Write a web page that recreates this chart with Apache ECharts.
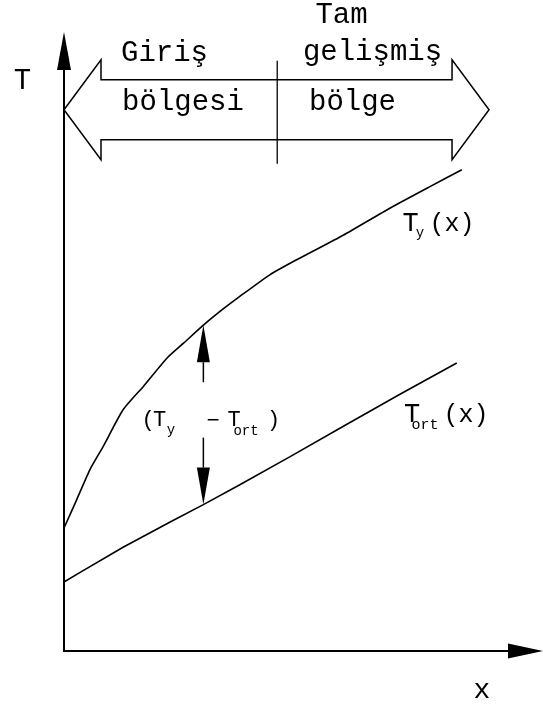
<!DOCTYPE html>
<html>
<head>
<meta charset="utf-8">
<script src="https://cdn.jsdelivr.net/npm/echarts@6/dist/echarts.min.js"></script>
<style>
  html, body { margin: 0; padding: 0; background: #fff; }
  #chart { width: 543px; height: 710px; }
</style>
</head>
<body>
<div id="chart"></div>
<script>
// Wall temperature T_y(x) along the duct
const tyX = [0, 0.24, 0.56, 0.85, 1.28, 1.72, 2.23, 2.59, 3.02, 3.38, 3.81, 4.46, 5.04, 6.05, 7.06, 7.93, 8.62];
const tyY = [2.05, 2.46, 3.02, 3.41, 4.02, 4.41, 4.88, 5.13, 5.43, 5.66, 5.91, 6.27, 6.52, 6.93, 7.38, 7.74, 8.02];

// Mean (bulk) temperature T_ort(x)
const tortX = [0, 0.35, 1.28, 2.30, 3.02, 3.81, 4.90, 6.13, 7.28, 8.51];
const tortY = [1.15, 1.31, 1.73, 2.15, 2.44, 2.77, 3.24, 3.78, 4.28, 4.80];

// Temperature difference marker: [x, T_y, T_ort]
const diffMarker = [[3.02, 5.43, 2.44]];

// Region band: left edge, boundary between regions, right edge, and its level
const zoneEdges = [0, 4.62, 9.21];
const zoneLevel = 9.02;
const zoneNames = ['Giriş', 'bölgesi', 'Tam', 'gelişmiş', 'bölge'];

const INK = '#000';
const MONO = 'Liberation Mono';

const chart = echarts.init(document.getElementById('chart'), null, { renderer: 'canvas' });

function pairs(xs, ys) { return xs.map((x, i) => [x, ys[i]]); }

function txt(text, x, y, size) {
  return {
    type: 'text', x: x, y: y, silent: true,
    style: { text: text, fill: INK, font: size + 'px "' + MONO + '"', align: 'center', verticalAlign: 'middle' }
  };
}

const option = {
  backgroundColor: '#fff',
  animation: false,
  grid: { left: 64, right: 17.5, top: 51, bottom: 59, containLabel: false },
  xAxis: {
    type: 'value', min: 0, max: 10,
    axisLine: { show: true, onZero: false, symbol: ['none', 'triangle'], symbolSize: [15, 35],
      lineStyle: { color: INK, width: 2 } },
    axisTick: { show: false }, axisLabel: { show: false }, splitLine: { show: false }
  },
  yAxis: {
    type: 'value', min: 0, max: 10,
    axisLine: { show: true, onZero: false, symbol: ['none', 'triangle'], symbolSize: [14, 38],
      lineStyle: { color: INK, width: 2 } },
    axisTick: { show: false }, axisLabel: { show: false }, splitLine: { show: false }
  },
  series: [
    {
      name: 'T_y', type: 'line', data: pairs(tyX, tyY), showSymbol: false, smooth: 0.2,
      lineStyle: { color: INK, width: 1.6 }, silent: true
    },
    {
      name: 'T_ort', type: 'line', data: pairs(tortX, tortY), showSymbol: false, smooth: false,
      lineStyle: { color: INK, width: 1.6 }, silent: true
    },
    {
      // double arrow spanning T_y - T_ort
      type: 'custom', data: diffMarker, silent: true,
      renderItem: function (params, api) {
        const top = api.coord([api.value(0), api.value(1)]);
        const bot = api.coord([api.value(0), api.value(2)]);
        const head = 37, hw = 6.5;
        const upShaft = 20, downShaft = 30;
        const x = top[0];
        return {
          type: 'group',
          children: [
            { type: 'polygon', shape: { points: [[x, top[1]], [x - hw, top[1] + head], [x + hw, top[1] + head]] },
              style: { fill: INK } },
            { type: 'line', shape: { x1: x, y1: top[1] + head, x2: x, y2: top[1] + head + upShaft },
              style: { stroke: INK, lineWidth: 1.5 } },
            { type: 'polygon', shape: { points: [[x, bot[1]], [x - hw, bot[1] - head], [x + hw, bot[1] - head]] },
              style: { fill: INK } },
            { type: 'line', shape: { x1: x, y1: bot[1] - head, x2: x, y2: bot[1] - head - downShaft },
              style: { stroke: INK, lineWidth: 1.5 } }
          ]
        };
      }
    },
    {
      // region band: entrance region | fully developed region
      type: 'custom', data: [[zoneEdges[0], zoneEdges[1], zoneEdges[2], zoneLevel]], silent: true,
      renderItem: function (params, api) {
        const L = api.coord([api.value(0), api.value(3)]);
        const D = api.coord([api.value(1), api.value(3)]);
        const R = api.coord([api.value(2), api.value(3)]);
        const head = 37, hh = 50, sh = 30;
        const y = L[1];
        const pts = [
          [L[0], y], [L[0] + head, y - hh], [L[0] + head, y - sh], [R[0] - head, y - sh],
          [R[0] - head, y - hh], [R[0], y], [R[0] - head, y + hh], [R[0] - head, y + sh],
          [L[0] + head, y + sh], [L[0] + head, y + hh]
        ];
        return {
          type: 'group',
          children: [
            { type: 'polygon', shape: { points: pts }, style: { fill: 'none', stroke: INK, lineWidth: 1.5 } },
            { type: 'line', shape: { x1: D[0], y1: y - 49, x2: D[0], y2: y + 54 },
              style: { stroke: INK, lineWidth: 1.3 } }
          ]
        };
      }
    }
  ],
  graphic: {
    elements: [
      // axis titles
      txt('T', 22.5, 81, 29),
      txt('x', 482, 691, 28),
      // region names
      txt(zoneNames[0], 164.5, 53, 29),
      txt(zoneNames[1], 183, 102, 29),
      txt(zoneNames[2], 341.5, 15, 29),
      txt(zoneNames[3], 372.5, 52, 29),
      txt(zoneNames[4], 352.5, 102, 29),
      // T_y(x)
      txt('T', 410.5, 224, 27),
      txt('y', 420, 233, 14),
      txt('(x)', 452, 224, 25),
      // T_ort(x)
      txt('T', 412, 415, 27),
      txt('ort', 425, 425, 15),
      txt('(x)', 466, 415, 25),
      // (T_y - T_ort)
      txt('(', 148, 420, 22),
      txt('T', 159.5, 420, 22),
      txt('y', 171, 430, 14),
      txt('\u2212', 213, 421, 22),
      txt('T', 234, 420, 22),
      txt('ort', 246, 431, 14),
      txt(')', 273.5, 420, 22)
    ]
  }
};

chart.setOption(option);
</script>
</body>
</html>
